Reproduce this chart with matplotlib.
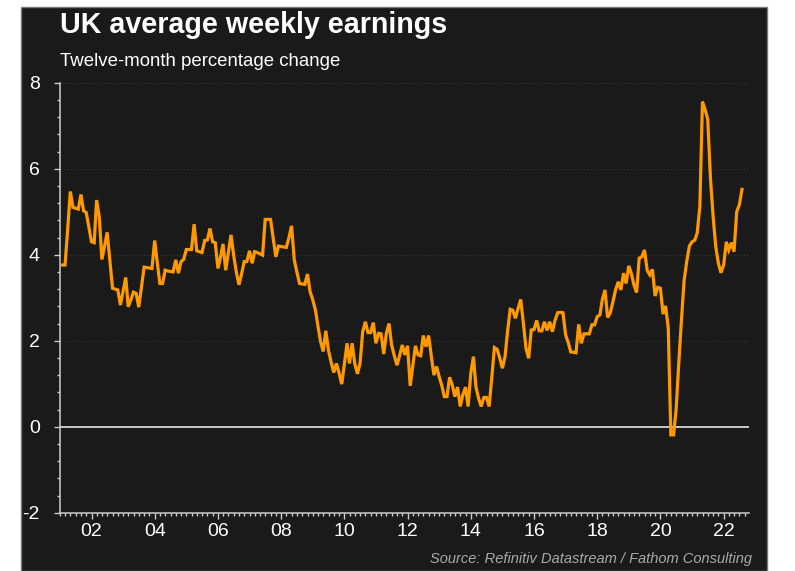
import numpy as np
import pandas as pd
import matplotlib
matplotlib.use("Agg")
import matplotlib.pyplot as plt
import matplotlib.dates as mdates
from matplotlib.patches import Rectangle
from matplotlib.ticker import MultipleLocator

plt.rcParams['font.family'] = ['Liberation Sans', 'DejaVu Sans']
plt.rcParams['axes.unicode_minus'] = False

# Twelve-month % change in UK average weekly earnings, monthly from Jan 2001
awe_2001 = [3.76, 3.76, 4.60, 5.47, 5.10, 5.08, 5.06, 5.40, 5.02, 4.98, 4.65, 4.30]
awe_2002 = [4.28, 5.27, 4.88, 3.89, 4.20, 4.52, 3.87, 3.22, 3.20, 3.18, 2.83, 3.15]
awe_2003 = [3.47, 2.79, 2.95, 3.13, 3.10, 2.78, 3.25, 3.71, 3.70, 3.69, 3.68, 4.33]
awe_2004 = [3.80, 3.33, 3.33, 3.64, 3.62, 3.61, 3.60, 3.88, 3.57, 3.84, 3.89, 4.12]
awe_2005 = [4.12, 4.12, 4.71, 4.09, 4.07, 4.05, 4.33, 4.34, 4.61, 4.30, 4.28, 3.68]
awe_2006 = [3.95, 4.25, 3.64, 4.05, 4.46, 4.00, 3.60, 3.30, 3.55, 3.84, 3.84, 4.09]
awe_2007 = [3.80, 4.07, 4.05, 4.02, 3.99, 4.82, 4.82, 4.82, 4.40, 3.95, 4.20, 4.19]
awe_2008 = [4.18, 4.17, 4.40, 4.67, 3.88, 3.60, 3.33, 3.32, 3.31, 3.55, 3.14, 2.95]
awe_2009 = [2.71, 2.35, 1.98, 1.75, 2.23, 1.78, 1.50, 1.26, 1.47, 1.25, 0.99, 1.45]
awe_2010 = [1.94, 1.47, 1.94, 1.47, 1.23, 1.47, 2.21, 2.44, 2.19, 2.19, 2.42, 1.94]
awe_2011 = [2.17, 2.16, 1.69, 2.17, 2.40, 1.90, 1.65, 1.43, 1.65, 1.90, 1.67, 1.88]
awe_2012 = [0.95, 1.40, 1.88, 1.67, 1.65, 2.12, 1.86, 2.12, 1.65, 1.20, 1.40, 1.16]
awe_2013 = [0.95, 0.70, 0.70, 1.15, 0.97, 0.70, 0.92, 0.47, 0.74, 0.92, 0.47, 1.24]
awe_2014 = [1.63, 0.93, 0.66, 0.47, 0.68, 0.68, 0.47, 1.15, 1.84, 1.80, 1.60, 1.36]
awe_2015 = [1.63, 2.20, 2.73, 2.71, 2.52, 2.75, 2.96, 2.40, 1.82, 1.59, 2.25, 2.26]
awe_2016 = [2.47, 2.23, 2.23, 2.44, 2.24, 2.44, 2.21, 2.48, 2.65, 2.66, 2.65, 2.13]
awe_2017 = [1.95, 1.74, 1.73, 1.72, 2.38, 1.94, 2.16, 2.16, 2.16, 2.37, 2.37, 2.56]
awe_2018 = [2.60, 2.96, 3.18, 2.54, 2.65, 2.90, 3.18, 3.37, 3.18, 3.57, 3.33, 3.74]
awe_2019 = [3.55, 3.30, 3.12, 3.92, 3.95, 4.11, 3.64, 3.53, 3.66, 3.04, 3.24, 3.22]
awe_2020 = [2.62, 2.81, 2.29, -0.19, -0.19, 0.40, 1.50, 2.50, 3.40, 3.85, 4.20, 4.30]
awe_2021 = [4.34, 4.50, 5.12, 7.56, 7.37, 7.15, 5.80, 4.90, 4.20, 3.80, 3.58, 3.76]
awe_2022 = [4.30, 4.11, 4.28, 4.07, 5.00, 5.16, 5.52]

values = np.concatenate([awe_2001, awe_2002, awe_2003, awe_2004, awe_2005,
                         awe_2006, awe_2007, awe_2008, awe_2009, awe_2010,
                         awe_2011, awe_2012, awe_2013, awe_2014, awe_2015,
                         awe_2016, awe_2017, awe_2018, awe_2019, awe_2020,
                         awe_2021, awe_2022])
dates = pd.date_range('2001-01-31', periods=len(values), freq='ME')

bg = '#1a1a1a'
axis_col = '#cccccc'

fig = plt.figure(figsize=(7.95, 5.71), dpi=100, facecolor='white')
fig.patches.append(Rectangle((21 / 795, 0), 746 / 795, 564 / 571,
                             transform=fig.transFigure, facecolor=bg,
                             edgecolor='#7a7a7a', linewidth=1, zorder=-5))

ax = fig.add_axes([60 / 795, 1 - 512.7 / 571, 689 / 795, 430 / 571])
ax.set_zorder(2)
ax.patch.set_alpha(0)

ax.plot(dates, values, color='#ff9900', linewidth=2.3, zorder=3,
        solid_joinstyle='miter')
ax.axhline(0, color='#e6e6e6', linewidth=1.2, zorder=2)

ax.set_ylim(-2, 8)
ax.set_xlim(pd.Timestamp('2001-01-01'), pd.Timestamp('2022-10-20'))

ax.yaxis.set_major_locator(MultipleLocator(2))
ax.yaxis.set_minor_locator(MultipleLocator(0.4))
ax.xaxis.set_major_locator(mdates.YearLocator(base=2, month=1, day=1))
ax.xaxis.set_minor_locator(mdates.MonthLocator(bymonth=[1, 3, 5, 7, 9, 11]))
ax.xaxis.set_major_formatter(mdates.DateFormatter('%y'))

ax.yaxis.grid(True, which='major', linestyle=(0, (1, 2)), color='#3a3a3a',
              linewidth=0.8)
ax.set_axisbelow(True)

for side in ['top', 'right']:
    ax.spines[side].set_visible(False)
for side in ['left', 'bottom']:
    ax.spines[side].set_color(axis_col)
    ax.spines[side].set_linewidth(1.1)

ax.tick_params(axis='both', which='major', colors=axis_col, labelcolor='white',
               labelsize=14, length=4.5, width=1)
ax.tick_params(axis='both', which='minor', colors=axis_col, length=2.2, width=1)
ax.tick_params(axis='y', which='major', pad=10)
ax.tick_params(axis='x', which='major', pad=3)

fig.text(60 / 795, 1 - 33.3 / 571, 'UK average weekly earnings',
         color='white', fontsize=20.6, fontweight='bold', va='baseline')
fig.text(60 / 795, 1 - 65.7 / 571, 'Twelve-month percentage change',
         color='white', fontsize=13.4, va='baseline')
fig.text(752 / 795, 1 - 563.5 / 571,
         'Source: Refinitiv Datastream / Fathom Consulting',
         color='#aaaaaa', fontsize=10.5, style='italic', ha='right',
         va='baseline')

fig.savefig('out.png', dpi=100, facecolor='white')
